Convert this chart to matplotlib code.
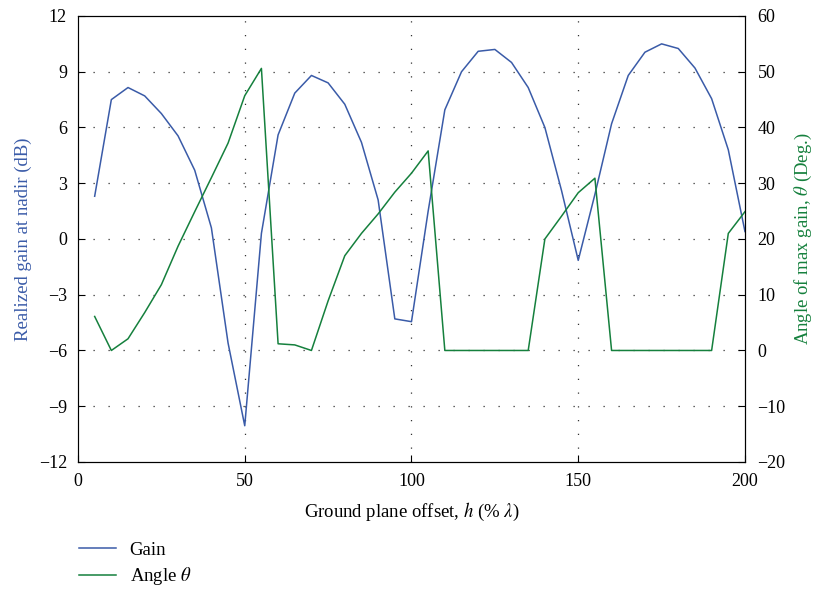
import matplotlib
matplotlib.use('Agg')
import matplotlib.pyplot as plt
import numpy as np

plt.rcParams['font.family'] = ['Liberation Serif', 'DejaVu Serif']
plt.rcParams['mathtext.fontset'] = 'stix'

# ground plane offset h (% lambda)
offset = [5, 10, 15, 20, 25, 30, 35, 40, 45, 50, 55, 60, 65, 70, 75, 80, 85, 90, 95, 100,
          105, 110, 115, 120, 125, 130, 135, 140, 145, 150, 155, 160, 165, 170, 175, 180,
          185, 190, 195, 200]
# realized gain at nadir (dB)
gain = [2.3, 7.5, 8.15, 7.7, 6.75, 5.55, 3.7, 0.6, -5.6, -10.05, 0.3, 5.6, 7.85, 8.8,
        8.4, 7.25, 5.2, 2.1, -4.3, -4.45, 1.5, 6.95, 9.0, 10.1, 10.2, 9.5, 8.15, 6.0,
        2.6, -1.15, 2.4, 6.2, 8.8, 10.05, 10.5, 10.25, 9.2, 7.55, 4.8, 0.4]
# angle of max gain (deg)
angle = [6.1, 0.0, 2.1, 6.8, 11.8, 18.7, 24.9, 31.0, 37.2, 45.7, 50.6, 1.2, 1.0, 0.0,
         8.9, 17.0, 21.0, 24.5, 28.4, 31.8, 35.8, 0.0, 0.0, 0.0, 0.0, 0.0, 0.0, 20.0,
         24.1, 28.3, 30.9, 0.0, 0.0, 0.0, 0.0, 0.0, 0.0, 0.0, 21.0, 24.9]

blue = '#3a5ba8'
green = '#15803d'

fig = plt.figure(figsize=(8.21, 5.9), dpi=100)
ax = fig.add_axes([0.095, 0.217, 0.8124, 0.7559])
ax2 = ax.twinx()

l1, = ax.plot(offset, gain, color=blue, lw=1.1, label='Gain')
l2, = ax2.plot(offset, angle, color=green, lw=1.1, label=r'Angle $\theta$')

ax.set_xlim(0, 200)
ax.set_ylim(-12, 12)
ax2.set_ylim(-20, 60)
ax.set_xticks([0, 50, 100, 150, 200])
ax.set_yticks(np.arange(-12, 13, 3))
ax2.set_yticks(np.arange(-20, 61, 10))

# dotted grid
for yv in np.arange(-9, 12, 3):
    ax.axhline(yv, color='#333333', lw=0.9, ls=(0, (1, 11)), zorder=0)
for xv in [50, 100, 150]:
    ax.axvline(xv, color='#333333', lw=0.9, ls=(0, (1, 10)), zorder=0)

for a in (ax, ax2):
    a.tick_params(direction='in', labelsize=13, length=5)
ax.tick_params(axis='x', pad=8)
ax.tick_params(axis='y', pad=8)
ax2.tick_params(axis='y', pad=9)
ax.spines['left'].set_color('#555555')

ax.set_xlabel(r'Ground plane offset, $h$ (% $\lambda$)', fontsize=13.5, labelpad=8)
ax.set_ylabel('Realized gain at nadir (dB)', fontsize=13.5, color=blue, labelpad=5)
ax2.set_ylabel(r'Angle of max gain, $\theta$ (Deg.)', fontsize=13.5, color=green, labelpad=5)

fig.legend(handles=[l1, l2], loc='upper left', bbox_to_anchor=(0.087, 0.095),
           frameon=False, fontsize=13.5, handlelength=2.0, handletextpad=0.7,
           labelspacing=0.35, borderaxespad=0)

fig.savefig('out.png', dpi=100)
